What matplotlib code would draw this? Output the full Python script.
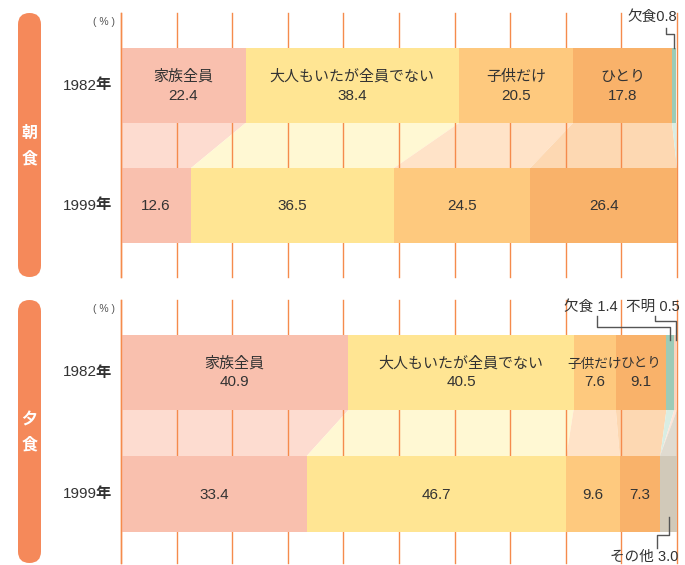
import matplotlib.pyplot as plt
import numpy as np
from matplotlib.patches import FancyBboxPatch

plt.rcParams['font.family'] = ['Liberation Sans', 'Noto Sans CJK JP', 'DejaVu Sans']

# categories and their colors (bar / connecting band)
categories = ['家族全員', '大人もいたが全員でない', '子供だけ', 'ひとり', '欠食', '不明', 'その他']
bar_colors = ['#f9c0ae', '#ffe593', '#fec97e', '#f9b26a', '#9ccbb7', '#fbd3bf', '#d1c9b9']
band_colors = ['#fddcd0', '#fff8d3', '#ffe3c8', '#fdd8b2', '#d9ede3', '#fde6da', '#e0dbd0']

# 朝食 (breakfast)
breakfast_1982 = [22.4, 38.4, 20.5, 17.8, 0.8, 0.0, 0.0]
breakfast_1999 = [12.6, 36.5, 24.5, 26.4, 0.0, 0.0, 0.0]
# 夕食 (dinner)
dinner_1982 = [40.9, 40.5, 7.6, 9.1, 1.4, 0.5, 0.0]
dinner_1999 = [33.4, 46.7, 9.6, 7.3, 0.0, 0.0, 3.0]

years = ['1982', '1999']
meals = ['朝\n食', '夕\n食']

# first segments get an inside label (1982: name + value, 1999: value only)
inside_n = 4

W, H = 685, 565
PX0, PX100 = 121, 677                      # pixel position of 0% and 100%
ppp = (PX100 - PX0) / 100.0


def pct(px):
    return (px - PX0) / ppp


fig = plt.figure(figsize=(W / 100, H / 100), dpi=100)
ax = fig.add_axes([0, 0, 1, 1])
ax.set_xlim(pct(0), pct(W))
ax.set_ylim(H, 0)
ax.axis('off')

deco = fig.add_axes([0, 0, 1, 1], zorder=-1)
deco.set_xlim(0, W)
deco.set_ylim(H, 0)
deco.axis('off')

grid_color = '#f58b4c'
text_color = '#333333'

# panel layout: (grid top, grid bottom, bar1 top, bar1 bottom, bar2 top, bar2 bottom)
panels = [
    (13, 277, 48, 123, 168, 243),
    (300, 563, 335, 410, 456, 532),
]
data = [(breakfast_1982, breakfast_1999), (dinner_1982, dinner_1999)]

for p, (gt, gb, b1t, b1b, b2t, b2b) in enumerate(panels):
    v1, v2 = data[p]
    left1 = np.concatenate([[0], np.cumsum(v1)[:-1]])
    left2 = np.concatenate([[0], np.cumsum(v2)[:-1]])

    # connecting bands
    for i in range(len(categories)):
        xs = [left1[i], left1[i] + v1[i], left2[i] + v2[i], left2[i]]
        ys = [b1b, b1b, b2t, b2t]
        ax.fill(xs, ys, color=band_colors[i], lw=0, zorder=1)

    # gridlines
    for g in range(0, 101, 10):
        ax.plot([g, g], [gt, gb], color=grid_color, lw=1.0, zorder=2)

    # bars
    ax.barh((b1t + b1b) / 2, v1, left=left1, height=b1b - b1t, color=bar_colors, lw=0, zorder=3)
    ax.barh((b2t + b2b) / 2, v2, left=left2, height=b2b - b2t, color=bar_colors, lw=0, zorder=3)
    ax.plot([0, 0], [gt, gb], color=grid_color, lw=1.0, zorder=4)

    # inside labels
    for i in range(inside_n):
        fs = 10.8 if v1[i] > 12 else 9.8
        ax.text(left1[i] + v1[i] / 2, (b1t + b1b) / 2 - 9, categories[i],
                ha='center', va='center', fontsize=fs, color=text_color, zorder=5)
        ax.text(left1[i] + v1[i] / 2, (b1t + b1b) / 2 + 10, f'{v1[i]:.1f}',
                ha='center', va='center', fontsize=11, color=text_color, zorder=5)
        ax.text(left2[i] + v2[i] / 2, (b2t + b2b) / 2 + 1, f'{v2[i]:.1f}',
                ha='center', va='center', fontsize=11, color=text_color, zorder=5)

    # year labels (年 in bold), unit, side pill
    for yc, yr in zip([(b1t + b1b) / 2, (b2t + b2b) / 2], years):
        deco.text(97, yc, yr, ha='right', va='center', fontsize=11, color=text_color)
        deco.text(111, yc, '年', ha='right', va='center', fontsize=11, color=text_color,
                  fontweight='bold')
    deco.text(104, gt + 9, '( % )', ha='center', va='center', fontsize=7.5, color='#555555')
    deco.add_patch(FancyBboxPatch((18, gt), 23, gb - gt,
                                  boxstyle='round,pad=0,rounding_size=11.5',
                                  fc='#f5895a', ec='none'))
    deco.text(29.5, (gt + gb) / 2 + 1, meals[p], ha='center', va='center', fontsize=11.5,
              color='white', fontweight='bold', linespacing=1.8)

# leader lines and outside labels
lead = dict(color='#555555', lw=1.0, zorder=6)
b = breakfast_1982
x_kesshoku = sum(b[:4]) + b[4] / 2
ax.plot([pct(666), pct(666), x_kesshoku, x_kesshoku], [28, 34, 34, 48], **lead)
ax.text(pct(677), 17, '欠食0.8', ha='right', va='center', fontsize=10.5, color=text_color)

d = dinner_1982
x_k2 = sum(d[:4]) + d[4] / 2
x_fm = sum(d[:5]) + d[5] / 2
ax.plot([pct(597), pct(597), x_k2, x_k2], [316, 327, 327, 340], **lead)
ax.text(pct(591), 307, '欠食 1.4', ha='center', va='center', fontsize=10.5, color=text_color)
ax.plot([pct(655), pct(655), x_fm, x_fm], [316, 321, 321, 340], **lead)
ax.text(pct(653), 307, '不明 0.5', ha='center', va='center', fontsize=10.5, color=text_color)

d2 = dinner_1999
x_ot = sum(d2[:6]) + d2[6] / 2
ax.plot([x_ot, x_ot, pct(657), pct(657)], [517, 535, 535, 548], **lead)
ax.text(pct(644), 557, 'その他 3.0', ha='center', va='center', fontsize=10.5, color=text_color)

fig.savefig('out.png', dpi=100)
